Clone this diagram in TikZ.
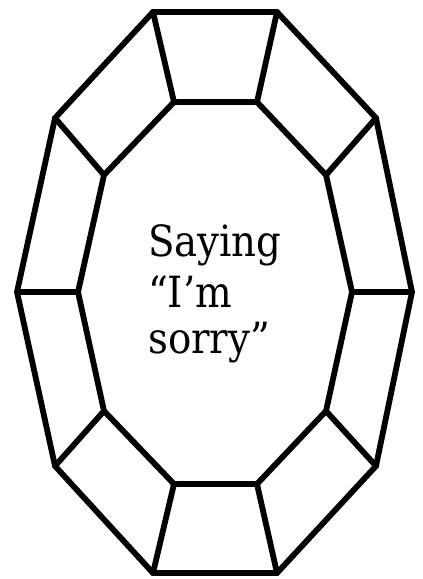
\documentclass[tikz,border=0pt]{standalone}
\usepackage{tikz}
\usepackage{fontspec}
\newfontfamily\gemfont{DejaVu Serif Condensed}

\tikzset{
  gemline/.style={line width=5.8pt, line join=miter, black},
  gemtext/.style={font=\gemfont\fontsize{43}{48}\selectfont, anchor=base west, inner sep=0pt}
}

\begin{document}
\begin{tikzpicture}[x=1pt, y=-1pt]
  \useasboundingbox (0,0) rectangle (423,579);

  % Contour exterieur
  \coordinate (o1) at (153,12);
  \coordinate (o2) at (277,12);
  \coordinate (o3) at (376,118);
  \coordinate (o4) at (412,292);
  \coordinate (o5) at (376,466);
  \coordinate (o6) at (277,573);
  \coordinate (o7) at (153,573);
  \coordinate (o8) at (55,466);
  \coordinate (o9) at (17,292);
  \coordinate (o10) at (55,118);

  % Contour interieur
  \coordinate (i1) at (174,102);
  \coordinate (i2) at (257,102);
  \coordinate (i3) at (326,175);
  \coordinate (i4) at (352,292);
  \coordinate (i5) at (326,411);
  \coordinate (i6) at (257,484);
  \coordinate (i7) at (174,484);
  \coordinate (i8) at (104,411);
  \coordinate (i9) at (78,292);
  \coordinate (i10) at (104,175);

  \draw [gemline] (o1) -- (o2) -- (o3) -- (o4) -- (o5) -- (o6) -- (o7) -- (o8) -- (o9) -- (o10) -- cycle;
  \draw [gemline] (i1) -- (i2) -- (i3) -- (i4) -- (i5) -- (i6) -- (i7) -- (i8) -- (i9) -- (i10) -- cycle;

  % Facettes
  \foreach \k in {1,...,10}
    \draw [gemline] (o\k) -- (i\k);

  % Texte
  \node [gemtext] (line1) at (148,256) {Saying};
  \node [gemtext] (line2) at (148,307) {“I’m};
  \node [gemtext] (line3) at (148,353) {sorry”};
\end{tikzpicture}
\end{document}
